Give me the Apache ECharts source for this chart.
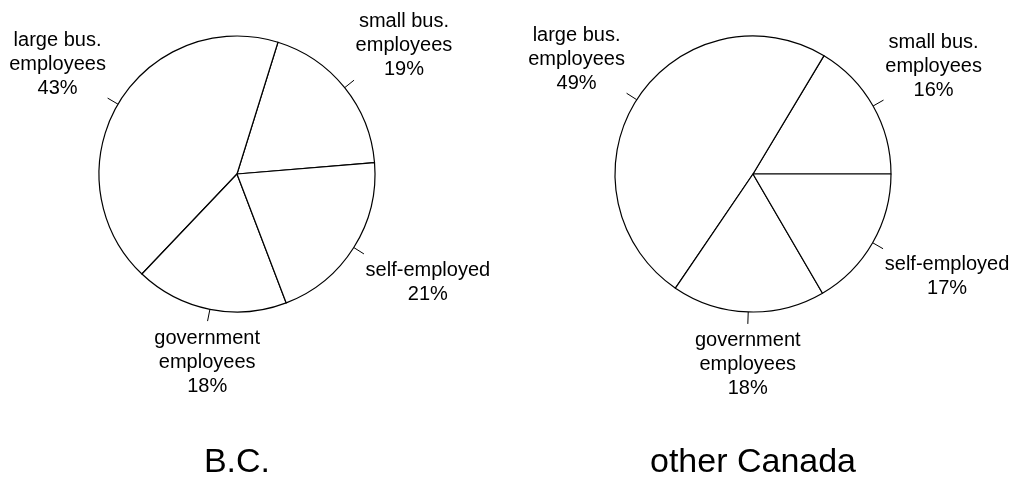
<!DOCTYPE html>
<html>
<head>
<meta charset="utf-8">
<script src="https://cdn.jsdelivr.net/npm/echarts@6/dist/echarts.min.js"></script>
<style>
  html, body { margin: 0; padding: 0; background: #fff; }
  #chart { width: 1011px; height: 485px; }
</style>
</head>
<body>
<div id="chart"></div>
<script>
// slices in drawing order (counterclockwise from 3 o'clock)
const categories = ['small bus.\nemployees', 'large bus.\nemployees', 'government\nemployees', 'self-employed']
const bcValues = [18.9, 42.7, 17.9, 20.5]
const canadaValues = [16.4, 49.1, 17.9, 16.6]
const panelTitles = ['B.C.', 'other Canada']

const font = 'Liberation Sans, Arial, Helvetica, sans-serif'

// put the corner of the label block that faces the pie at the end of the tick
function cornerLayout (params) {
  const pts = params.labelLinePoints
  if (!pts) return {}
  const p0 = pts[0]
  const end = pts[pts.length - 1]
  const dx = end[0] - p0[0]
  const dy = end[1] - p0[1]
  const len = Math.sqrt(dx * dx + dy * dy) || 1
  const ux = dx / len
  const uy = dy / len
  const gap = 2
  const w = params.labelRect.width
  const h = params.labelRect.height
  let x = end[0] + ux * gap
  let y = end[1] + uy * gap + 3
  if (ux > 0.3) x += w / 2
  else if (ux < -0.3) x -= w / 2
  y += uy < 0 ? -h / 2 : h / 2
  return {
    x: x,
    y: y,
    align: 'center',
    verticalAlign: 'middle',
    labelLinePoints: pts
  }
}

function pieSeries (values, center, startAngle) {
  return {
    type: 'pie',
    center: center,
    radius: 138,
    startAngle: startAngle,
    clockwise: false,
    avoidLabelOverlap: false,
    silent: true,
    itemStyle: {
      color: '#fff',
      borderColor: '#000',
      borderWidth: 1.2
    },
    label: {
      show: true,
      position: 'outside',
      fontFamily: font,
      fontSize: 20,
      lineHeight: 24,
      color: '#000',
      bleedMargin: 0,
      formatter: p => p.name + '\n' + Math.round(p.value) + '%'
    },
    labelLine: {
      show: true,
      length: 12,
      length2: 0,
      smooth: false,
      lineStyle: { color: '#000', width: 1 }
    },
    labelLayout: cornerLayout,
    emphasis: { disabled: true },
    data: categories.map((c, i) => ({ name: c, value: values[i] }))
  }
}

const chart = echarts.init(document.getElementById('chart'))
chart.setOption({
  animation: false,
  backgroundColor: '#fff',
  title: [
    {
      text: panelTitles[0], left: 237, top: 446, textAlign: 'center', padding: 0,
      textStyle: { fontFamily: font, fontSize: 34, fontWeight: 'normal', color: '#000' }
    },
    {
      text: panelTitles[1], left: 753, top: 446, textAlign: 'center', padding: 0,
      textStyle: { fontFamily: font, fontSize: 34, fontWeight: 'normal', color: '#000' }
    }
  ],
  series: [
    pieSeries(bcValues, [237, 174], 4.7),
    pieSeries(canadaValues, [753, 174], 0)
  ]
})
</script>
</body>
</html>
